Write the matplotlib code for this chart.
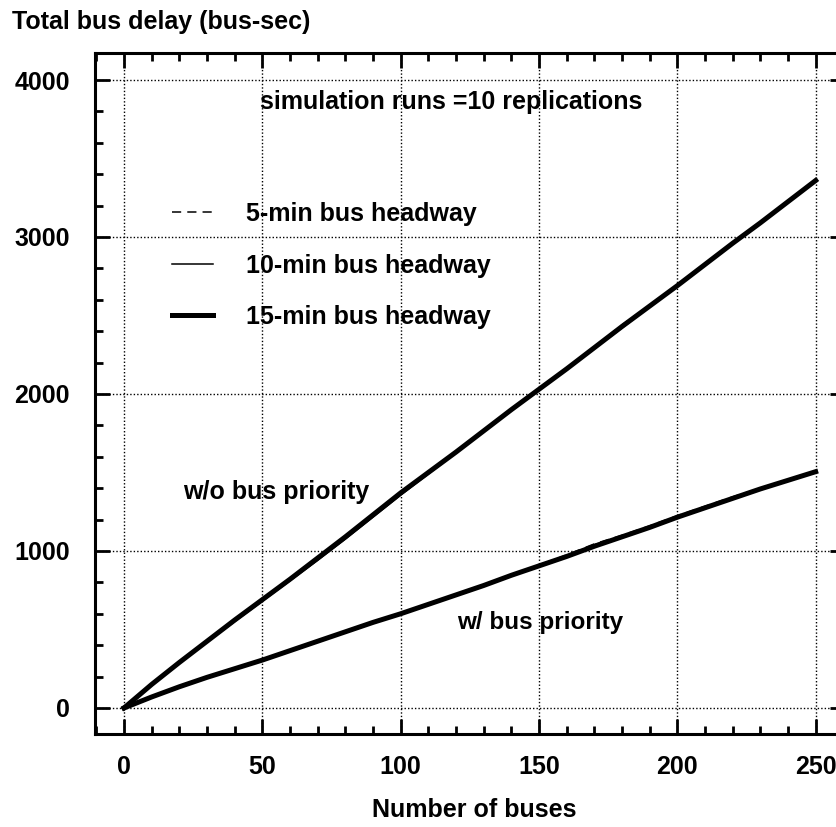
import matplotlib
matplotlib.use("Agg")
import matplotlib.pyplot as plt
from matplotlib.ticker import MultipleLocator

plt.rcParams['font.family'] = ['Liberation Sans', 'DejaVu Sans']
plt.rcParams['font.weight'] = 'bold'

buses = [0, 10, 20, 30, 40, 50, 60, 70, 80, 90, 100, 110, 120, 130, 140, 150,
         160, 170, 180, 190, 200, 210, 220, 230, 240, 250]

# w/o bus priority
nop_5 = [0, 155, 295, 430, 565, 695, 825, 960, 1095, 1235, 1375, 1505, 1635, 1770, 1905,
         2035, 2165, 2300, 2440, 2565, 2695, 2830, 2965, 3095, 3230, 3365]
nop_10 = [0, 145, 285, 420, 550, 680, 810, 940, 1075, 1215, 1355, 1490, 1625, 1760, 1895,
          2025, 2155, 2290, 2420, 2555, 2690, 2820, 2955, 3085, 3220, 3355]
nop_15 = [0, 150, 290, 425, 560, 690, 820, 955, 1090, 1230, 1370, 1500, 1630, 1765, 1900,
          2030, 2160, 2295, 2430, 2560, 2690, 2825, 2960, 3090, 3225, 3360]

# w/ bus priority
pri_5 = [0, 72, 138, 198, 253, 308, 368, 428, 488, 548, 603, 665, 725, 785, 850,
         910, 975, 1045, 1100, 1160, 1225, 1285, 1345, 1400, 1455, 1510]
pri_10 = [0, 68, 130, 190, 248, 302, 362, 420, 480, 540, 598, 655, 718, 775, 840,
          900, 970, 1040, 1095, 1150, 1210, 1280, 1340, 1390, 1445, 1500]
pri_15 = [0, 70, 135, 195, 250, 305, 365, 425, 485, 545, 600, 660, 720, 780, 845,
          905, 965, 1030, 1090, 1150, 1215, 1275, 1335, 1395, 1450, 1505]

series_labels = ['5-min bus headway', '10-min bus headway', '15-min bus headway']
x_ticks = [0, 50, 100, 150, 200, 250]
y_ticks = [0, 1000, 2000, 3000, 4000]

W, H = 837, 827
fig = plt.figure(figsize=(W / 100, H / 100), dpi=100)
L, R, T, B = 95, 845, 53, 734
ax = fig.add_axes([L / W, 1 - B / H, (R - L) / W, (B - T) / H])

dash = dict(color='black', lw=1.1, linestyle=(0, (6, 4)))
thin = dict(color='black', lw=1.1, linestyle='-')
thick = dict(color='black', lw=3.6, linestyle='-')

h5, = ax.plot(buses, nop_5, **dash)
h10, = ax.plot(buses, nop_10, **thin)
h15, = ax.plot(buses, nop_15, **thick)
ax.plot(buses, pri_5, **dash)
ax.plot(buses, pri_10, **thin)
ax.plot(buses, pri_15, **thick)

ax.set_xlim(-10.5, 260.6)
ax.set_ylim(-166, 4172)
ax.set_xticks(x_ticks)
ax.set_yticks(y_ticks)
ax.xaxis.set_minor_locator(MultipleLocator(10))
ax.yaxis.set_minor_locator(MultipleLocator(200))
ax.grid(True, which='major', color='black', lw=1.0, linestyle=(0, (1, 1.5)))
ax.tick_params(which='both', direction='in', top=True, right=True, width=2.0, color='black')
ax.tick_params(which='major', length=11, labelsize=18)
ax.tick_params(which='minor', length=5.5)
ax.tick_params(axis='x', which='major', pad=15)
ax.tick_params(axis='y', which='major', pad=18)
for lab in ax.get_xticklabels() + ax.get_yticklabels():
    lab.set_fontweight('bold')
for s in ax.spines.values():
    s.set_linewidth(2.2)

leg = ax.legend([h5, h10, h15], series_labels, loc='upper left',
                bbox_to_anchor=(172 / W, 1 - 202 / H), bbox_transform=fig.transFigure,
                frameon=False, fontsize=18, handlelength=1.65, handletextpad=1.3,
                labelspacing=1.1, borderpad=0, borderaxespad=0)
for t in leg.get_texts():
    t.set_fontweight('bold')

def px(x, y):
    return (x / W, 1 - y / H)

fig.text(*px(260, 102), 'simulation runs =10 replications', fontsize=18, fontweight='bold',
         ha='left', va='center')
fig.text(*px(183, 492), 'w/o bus priority', fontsize=18, fontweight='bold', ha='left', va='center')
fig.text(*px(457, 622), 'w/ bus priority', fontsize=17.5, fontweight='bold', ha='left', va='center')
fig.text(*px(12, 22), 'Total bus delay (bus-sec)', fontsize=18, fontweight='bold',
         ha='left', va='center')
fig.text(*px(474, 810), 'Number of buses', fontsize=18, fontweight='bold', ha='center', va='center')

fig.savefig('out.png', dpi=100)
